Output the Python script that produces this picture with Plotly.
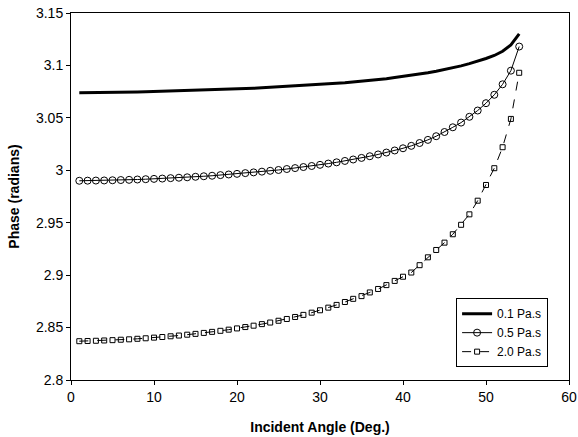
import plotly.graph_objects as go

angles = list(range(1, 55))

phase_01 = [3.0740, 3.0740, 3.0741, 3.0741, 3.0742, 3.0744, 3.0745, 3.0747, 3.0749, 3.0751,
            3.0753, 3.0755, 3.0757, 3.0759, 3.0762, 3.0764, 3.0767, 3.0770, 3.0773, 3.0776,
            3.0779, 3.0782, 3.0786, 3.0790, 3.0794, 3.0798, 3.0802, 3.0807, 3.0812, 3.0817,
            3.0823, 3.0829, 3.0835, 3.0842, 3.0849, 3.0857, 3.0865, 3.0874, 3.0884, 3.0894,
            3.0905, 3.0917, 3.0930, 3.0944, 3.0960, 3.0977, 3.0996, 3.1017, 3.1040, 3.1066,
            3.1095, 3.1135, 3.1195, 3.1300]

phase_05 = [2.9900, 2.9901, 2.9902, 2.9903, 2.9905, 2.9907, 2.9909, 2.9912, 2.9915, 2.9918,
            2.9921, 2.9925, 2.9929, 2.9933, 2.9938, 2.9943, 2.9948, 2.9954, 2.9960, 2.9966,
            2.9973, 2.9980, 2.9987, 2.9995, 3.0003, 3.0012, 3.0021, 3.0031, 3.0041, 3.0052,
            3.0064, 3.0076, 3.0089, 3.0103, 3.0118, 3.0134, 3.0151, 3.0169, 3.0189, 3.0210,
            3.0233, 3.0260, 3.0290, 3.0325, 3.0365, 3.0410, 3.0455, 3.0510, 3.0570, 3.0640,
            3.0720, 3.0820, 3.0950, 3.1180]

phase_20 = [2.8370, 2.8372, 2.8374, 2.8377, 2.8380, 2.8384, 2.8388, 2.8393, 2.8398, 2.8404,
            2.8410, 2.8417, 2.8424, 2.8432, 2.8440, 2.8449, 2.8459, 2.8469, 2.8480, 2.8492,
            2.8505, 2.8518, 2.8533, 2.8548, 2.8565, 2.8582, 2.8601, 2.8621, 2.8642, 2.8665,
            2.8690, 2.8716, 2.8744, 2.8774, 2.8800, 2.8835, 2.8868, 2.8905, 2.8945, 2.8985,
            2.9025, 2.9095, 2.9170, 2.9240, 2.9310, 2.9390, 2.9480, 2.9580, 2.9710, 2.9860,
            3.0020, 3.0220, 3.0490, 3.0930]

series_names = ["0.1 Pa.s", "0.5 Pa.s", "2.0 Pa.s"]

fig = go.Figure()
fig.add_trace(go.Scatter(
    x=angles, y=phase_01, name=series_names[0], mode="lines",
    line=dict(color="black", width=3)))
fig.add_trace(go.Scatter(
    x=angles, y=phase_05, name=series_names[1], mode="lines+markers",
    line=dict(color="black", width=1),
    marker=dict(symbol="circle-open", size=7, color="black", line=dict(width=1))))
fig.add_trace(go.Scatter(
    x=angles, y=phase_20, name=series_names[2], mode="lines+markers",
    line=dict(color="black", width=1, dash="dash"),
    marker=dict(symbol="square-open", size=5, color="black", line=dict(width=1))))

font_family = "Liberation Sans, Arial, sans-serif"

fig.update_layout(
    width=578, height=437,
    margin=dict(l=71, r=9, t=13, b=57, autoexpand=False),
    paper_bgcolor="white", plot_bgcolor="white",
    font=dict(family=font_family, size=14, color="black"),
    showlegend=True,
    legend=dict(x=0.958, xanchor="right", y=0.035, yanchor="bottom",
                bordercolor="black", borderwidth=1, bgcolor="white",
                font=dict(size=12), itemwidth=30, tracegroupgap=0),
    xaxis=dict(range=[0, 60], dtick=10, showgrid=False, zeroline=False,
               showline=True, linecolor="black", linewidth=1, mirror=True,
               ticks="outside", ticklen=4, tickcolor="black", automargin=False,
               ticklabeloverflow="allow",
               title=dict(text="<b>Incident Angle (Deg.)</b>", standoff=18,
                          font=dict(size=14))),
    yaxis=dict(range=[2.8, 3.15], dtick=0.05, showgrid=False, zeroline=False,
               showline=True, linecolor="black", linewidth=1, mirror=True,
               ticks="outside", ticklen=4, tickcolor="black", automargin=False,
               ticklabeloverflow="allow",
               title=dict(text="<b>Phase (radians)</b>", standoff=13,
                          font=dict(size=14))),
)

# remove the browser's default body margin so the figure sits at the page origin
fig.write_html("out.html",
               config={"displayModeBar": False},
               post_script="document.body.style.margin='0';document.body.style.overflow='hidden';")
